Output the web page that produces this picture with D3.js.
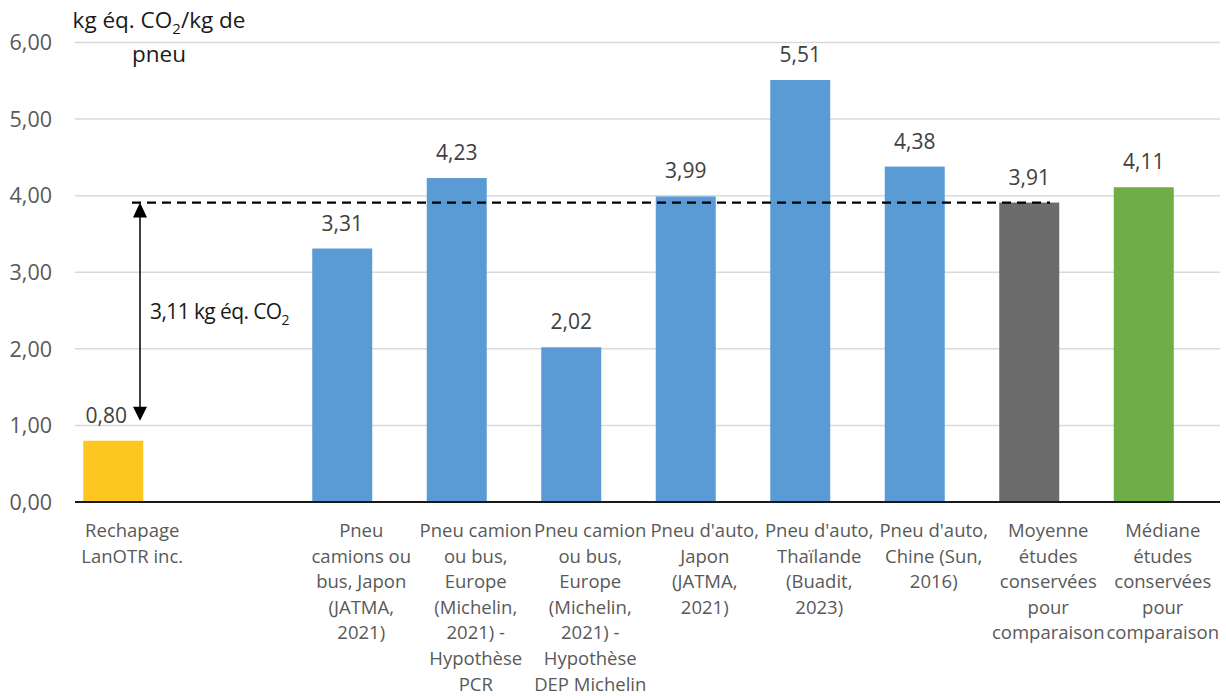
<!DOCTYPE html>
<html><head><meta charset="utf-8">
<script src="https://cdn.jsdelivr.net/npm/d3@7"></script>
<style>body{margin:0;background:#fff}svg{display:block}</style>
</head><body>
<svg id="c" width="1226" height="696"></svg>
<script>
const categories = [
  "Rechapage\nLanOTR inc.",
  " ",
  "Pneu\ncamions ou\nbus, Japon\n(JATMA,\n2021)",
  "Pneu camion\nou bus,\nEurope\n(Michelin,\n2021) -\nHypothèse\nPCR",
  "Pneu camion\nou bus,\nEurope\n(Michelin,\n2021) -\nHypothèse\nDEP Michelin",
  "Pneu d'auto,\nJapon\n(JATMA,\n2021)",
  "Pneu d'auto,\nThaïlande\n(Buadit,\n2023)",
  "Pneu d'auto,\nChine (Sun,\n2016)",
  "Moyenne\nétudes\nconservées\npour\ncomparaison",
  "Médiane\nétudes\nconservées\npour\ncomparaison"
];
const values = [0.80, null, 3.31, 4.23, 2.02, 3.99, 5.51, 4.38, 3.91, 4.11];
const barColors = ["#FEC621", null, "#5B9BD5", "#5B9BD5", "#5B9BD5", "#5B9BD5", "#5B9BD5", "#5B9BD5", "#6B6B6B", "#70AD47"];
const yTicks = [0, 1, 2, 3, 4, 5, 6];
const reference = 3.91;   // moyenne
const baseValue = 0.80;   // rechapage
const diffLabel = "3,11 kg éq. CO";

const fmt = v => d3.format(".2f")(v).replace(".", ",");
const svg = d3.select("#c");
const FONT = "'Open Sans', sans-serif";

const x = d3.scaleBand().domain(categories).range([75, 1220]).padding(0);
const y = d3.scaleLinear().domain([0, 6]).range([502, 42.5]);
const barW = 60, barShift = -19;
const bx = c => x(c) + x.bandwidth() / 2 + barShift;

// gridlines
svg.append("g").selectAll("line").data(yTicks.filter(t => t > 0)).join("line")
  .attr("x1", 75).attr("x2", 1220)
  .attr("y1", d => y(d)).attr("y2", d => y(d))
  .attr("stroke", "#D9D9D9").attr("stroke-width", 1.5);

// y tick labels
svg.append("g").selectAll("text").data(yTicks).join("text")
  .attr("x", 52).attr("y", d => y(d)).attr("dy", "0.36em")
  .attr("text-anchor", "end").attr("font-family", FONT).attr("font-size", 21.5)
  .attr("fill", "#595959").text(d => fmt(d));

// bars
const data = categories.map((c, i) => ({c, v: values[i], col: barColors[i]})).filter(d => d.v != null);
svg.append("g").selectAll("rect").data(data).join("rect")
  .attr("x", d => bx(d.c) - barW / 2).attr("width", barW)
  .attr("y", d => y(d.v)).attr("height", d => y(0) - y(d.v))
  .attr("fill", d => d.col);

// axis line
svg.append("line").attr("x1", 75).attr("x2", 1220).attr("y1", y(0)).attr("y2", y(0))
  .attr("stroke", "#1a1a1a").attr("stroke-width", 2);

// value labels
svg.append("g").selectAll("text").data(data).join("text")
  .attr("x", (d, i) => bx(d.c) + (i === 0 ? -7 : 0)).attr("y", d => y(d.v) - 18)
  .attr("text-anchor", "middle").attr("font-family", FONT).attr("font-size", 21)
  .attr("fill", "#404040").text(d => fmt(d.v));

// category labels
const cl = svg.append("g").selectAll("text").data(categories).join("text")
  .attr("text-anchor", "middle").attr("font-family", FONT).attr("font-size", 18.5)
  .attr("fill", "#595959");
cl.each(function(c) {
  const t = d3.select(this);
  c.split("\n").forEach((line, k) => {
    t.append("tspan").attr("x", x(c) + x.bandwidth() / 2).attr("y", 537 + k * 25.6).text(line);
  });
});

// dashed reference line
svg.append("line").attr("x1", 132).attr("x2", 1050).attr("y1", y(reference)).attr("y2", y(reference))
  .attr("stroke", "#000").attr("stroke-width", 2.2).attr("stroke-dasharray", "9,6");

// double arrow
const ax = 140, yTop = y(reference), yBot = y(baseValue) - 20;
svg.append("line").attr("x1", ax).attr("x2", ax).attr("y1", yTop + 10).attr("y2", yBot - 10)
  .attr("stroke", "#000").attr("stroke-width", 1.5);
svg.append("path").attr("d", `M${ax},${yTop} L${ax - 7},${yTop + 15} L${ax + 7},${yTop + 15} Z`).attr("fill", "#000");
svg.append("path").attr("d", `M${ax},${yBot} L${ax - 7},${yBot - 14} L${ax + 7},${yBot - 14} Z`).attr("fill", "#000");

// annotation text
const at = svg.append("text").attr("x", 150).attr("y", 319).attr("font-family", FONT)
  .attr("font-size", 21).attr("fill", "#1a1a1a").attr("letter-spacing", -0.6);
at.append("tspan").text(diffLabel);
at.append("tspan").attr("font-size", 14).attr("dy", 6).text("2");

// y axis title
const yt = svg.append("text").attr("text-anchor", "middle").attr("font-family", FONT)
  .attr("font-size", 22.5).attr("fill", "#1a1a1a");
yt.append("tspan").attr("x", 159).attr("y", 28).text("kg éq. CO");
yt.append("tspan").attr("font-size", 15).attr("dy", 6).text("2");
yt.append("tspan").attr("dy", -6).text("/kg de");
yt.append("tspan").attr("x", 159).attr("y", 62).text("pneu");
</script>
</body></html>
